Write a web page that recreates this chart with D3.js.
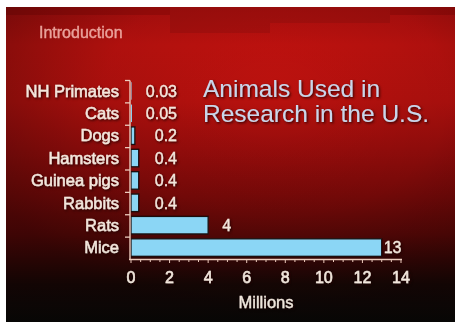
<!DOCTYPE html>
<html><head><meta charset="utf-8">
<script src="https://cdn.jsdelivr.net/npm/d3@7/dist/d3.min.js"></script>
<style>
html,body{margin:0;padding:0;background:#fff;}
svg{display:block;}
text{font-family:"Liberation Sans",Arial,Helvetica,sans-serif;}
</style>
</head><body>
<svg id="chart" width="457" height="322"></svg>
<script>
const categories = ["NH Primates","Cats","Dogs","Hamsters","Guinea pigs","Rabbits","Rats","Mice"];
const values = [0.03,0.05,0.2,0.4,0.4,0.4,4,13];
const valueLabels = ["0.03","0.05","0.2","0.4","0.4","0.4","4","13"];
const xTicks = [0,2,4,6,8,10,12,14];
const xMinorTicks = d3.range(0,14.01,0.5);
const titleLines = ["Animals Used in","Research in the U.S."];
const sectionLabel = "Introduction";
const axisTitle = "Millions";

const svg = d3.select("#chart");
const defs = svg.append("defs");

// background gradients
const bg = defs.append("linearGradient").attr("id","bg").attr("x1",0).attr("y1",0).attr("x2",0).attr("y2",1);
[[0,"#b20f0e"],[0.12,"#c2120f"],[0.3,"#b8110e"],[0.45,"#9c0d0c"],[0.6,"#7e0a09"],[0.72,"#600807"],[0.8,"#3e0706"],[0.88,"#1c0806"],[1,"#0b0a08"]]
 .forEach(([o,c])=>bg.append("stop").attr("offset",o).attr("stop-color",c));
const vig = defs.append("radialGradient").attr("id","vig").attr("cx",0.6).attr("cy",0.28).attr("r",0.7);
vig.append("stop").attr("offset",0).attr("stop-color","#000").attr("stop-opacity",0);
vig.append("stop").attr("offset",0.55).attr("stop-color","#000").attr("stop-opacity",0.1);
vig.append("stop").attr("offset",1).attr("stop-color","#000").attr("stop-opacity",0.35);

const shadow = defs.append("filter").attr("id","sh").attr("x","-10%").attr("y","-20%").attr("width","130%").attr("height","150%");
shadow.append("feDropShadow").attr("dx",1.2).attr("dy",1.2).attr("stdDeviation",0.8).attr("flood-color","#200000").attr("flood-opacity",0.85);
const blur = defs.append("filter").attr("id","soft");
blur.append("feGaussianBlur").attr("stdDeviation",0.4);

const frame = {x0:6, y0:7, x1:455, y1:322};
svg.append("rect").attr("x",frame.x0).attr("y",frame.y0).attr("width",frame.x1-frame.x0).attr("height",frame.y1-frame.y0).attr("fill","url(#bg)");
// top darker band pieces
const band = svg.append("g").attr("opacity",0.25).attr("filter","url(#soft)");
band.append("rect").attr("x",6).attr("y",7).attr("width",449).attr("height",8).attr("fill","#6a0606");
band.append("rect").attr("x",170).attr("y",7).attr("width",100).attr("height",26).attr("fill","#7a0808");
band.append("rect").attr("x",270).attr("y",7).attr("width",120).attr("height",16).attr("fill","#7a0808");
svg.append("rect").attr("x",frame.x0).attr("y",frame.y0).attr("width",frame.x1-frame.x0).attr("height",frame.y1-frame.y0).attr("fill","url(#vig)");

// scales
const x = d3.scaleLinear().domain([0,14]).range([131,401]);
const y = d3.scaleBand().domain(categories).range([80.5,259.5]).paddingInner(0).paddingOuter(0);

const g = svg.append("g").attr("filter","url(#soft)");

// bars
const barPad = 0.12;
g.selectAll("rect.bar").data(categories).join("rect")
  .attr("class","bar")
  .attr("x",x(0))
  .attr("y",d=>y(d)+y.bandwidth()*barPad - 1)
  .attr("width",(d,i)=>Math.max(0.001,x(values[i])-x(0)))
  .attr("height",y.bandwidth()*(1-2*barPad)+0.5)
  .attr("fill","#8bd6f5")
  .attr("stroke",(d,i)=>values[i]<0.1?"none":"#1a1010")
  .attr("stroke-width",1.3);

// y axis
const axisColor = "#eccbbd";
const yAxis = g.append("g");
yAxis.append("line").attr("x1",x(0)-1).attr("x2",x(0)-1).attr("y1",y.range()[0]).attr("y2",y.range()[1])
  .attr("stroke",axisColor).attr("stroke-width",1.4);
const boundaries = categories.map(c=>y(c));
yAxis.selectAll("line.tk").data(boundaries).join("line").attr("class","tk")
  .attr("x1",x(0)-6).attr("x2",x(0)-1).attr("y1",d=>d).attr("y2",d=>d)
  .attr("stroke",axisColor).attr("stroke-width",1.3);

// x axis
const xAxis = g.append("g").attr("transform",`translate(0,${y.range()[1]})`);
xAxis.append("line").attr("x1",x(0)-2).attr("x2",x(14)+1).attr("y1",0).attr("y2",0).attr("stroke",axisColor).attr("stroke-width",1.4);
xAxis.selectAll("line.mn").data(xMinorTicks).join("line").attr("class","mn")
  .attr("x1",d=>x(d)).attr("x2",d=>x(d)).attr("y1",0).attr("y2",d=>d%2===0?3.5:2.5)
  .attr("stroke",axisColor).attr("stroke-width",1);
xAxis.selectAll("text").data(xTicks).join("text")
  .attr("x",d=>x(d)).attr("y",23).attr("text-anchor","middle")
  .attr("font-size",16).attr("fill","#f2e6dc").attr("stroke","#f2e6dc").attr("stroke-width",0.5)
  .attr("filter","url(#sh)")
  .text(d=>d);

// category labels
g.selectAll("text.cat").data(categories).join("text").attr("class","cat")
  .attr("x",x(0)-12).attr("y",d=>y(d)+y.bandwidth()/2+5)
  .attr("text-anchor","end").attr("font-size",16.5)
  .attr("fill","#f3e7dd").attr("stroke","#f3e7dd").attr("stroke-width",0.45)
  .attr("filter","url(#sh)")
  .text(d=>d);

// value labels
g.selectAll("text.val").data(categories).join("text").attr("class","val")
  .attr("x",(d,i)=>values[i]<1 ? x(0)+46 : x(values[i]) + (values[i]<10?14:2))
  .attr("y",d=>y(d)+y.bandwidth()/2+5)
  .attr("text-anchor",(d,i)=>values[i]<1?"end":"start")
  .attr("font-size",16).attr("fill","#f3e7dd").attr("stroke","#f3e7dd").attr("stroke-width",0.3)
  .attr("filter","url(#sh)")
  .text((d,i)=>valueLabels[i]);

// axis title
g.append("text").attr("x",266).attr("y",308).attr("text-anchor","middle")
  .attr("font-size",16.5).attr("fill","#f0e6dc").attr("stroke","#f0e6dc").attr("stroke-width",0.3)
  .attr("filter","url(#sh)").text(axisTitle);

// chart title
g.append("text").attr("font-size",24.5).attr("fill","#c9d6ea").attr("filter","url(#sh)")
  .selectAll("tspan").data(titleLines).join("tspan")
  .attr("x",203).attr("y",(d,i)=>97+i*25).text(d=>d);

// section label
g.append("text").attr("x",39).attr("y",38).attr("font-size",16)
  .attr("fill","#f2b2aa").attr("stroke","#f2b2aa").attr("stroke-width",0.4).attr("opacity",0.9).text(sectionLabel);
</script>
</body></html>
